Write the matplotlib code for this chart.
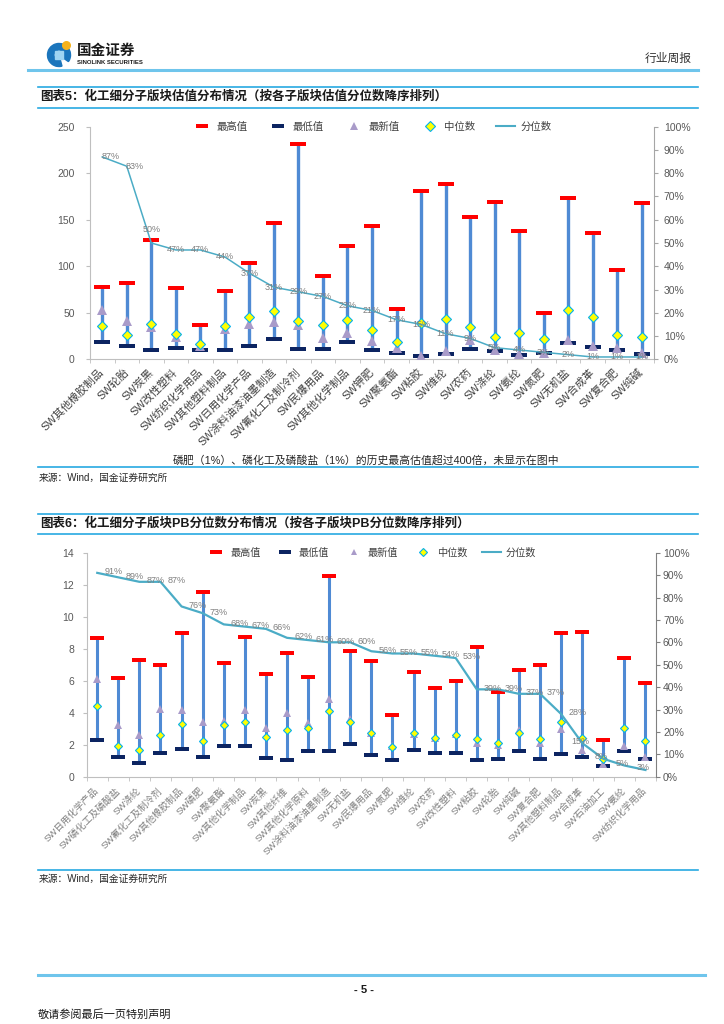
import numpy as np
import matplotlib
matplotlib.use("Agg")
import matplotlib.pyplot as plt
from matplotlib.path import Path
from matplotlib.lines import Line2D
from matplotlib.patches import Wedge, Circle, Rectangle

plt.rcParams['font.family'] = ['Liberation Sans', 'Noto Sans CJK SC', 'DejaVu Sans']

# %% Data, chart 5 (PE)
pe_names = ['SW其他橡胶制品', 'SW轮胎', 'SW炭黑', 'SW改性塑料', 'SW纺织化学用品',
            'SW其他塑料制品', 'SW日用化学产品', 'SW涂料油漆油墨制造', 'SW氟化工及制冷剂',
            'SW民爆用品', 'SW其他化学制品', 'SW钾肥', 'SW聚氨酯', 'SW粘胶', 'SW维纶',
            'SW农药', 'SW涤纶', 'SW氨纶', 'SW氮肥', 'SW无机盐', 'SW合成革', 'SW复合肥', 'SW纯碱']
pe_max = [78, 82, 128, 77, 37, 73, 103, 146, 231, 89, 122, 143, 54, 181, 188, 153, 169, 138, 50, 173, 136, 96, 168]
pe_min = [19, 14, 10, 12.5, 10, 10, 14, 22, 11.5, 11.5, 19, 10, 6.5, 3.5, 5.5, 11.5, 8.5, 4.5, 6.5, 18, 13, 10.5, 5.5]
pe_latest = [53, 41, 35, 24, 14, 33, 38, 40, 37, 23, 28.5, 20, 12, 3.5, 9, 20.5, 10, 6, 7, 20.5, 14, 12, 7]
pe_median = [36, 26, 38, 27.5, 16, 36, 45, 52, 41, 37, 42, 32, 19, 38.5, 43, 34.5, 23.5, 28.5, 21.5, 53, 45, 26, 24.5]
pe_pct = [87, 83, 50, 47, 47, 44, 37, 31, 29, 27, 23, 21, 17, 15, 11, 9, 5, 4, 3, 2, 1, 1, 1]

# %% Data, chart 6 (PB)
pb_names = ['SW日用化学产品', 'SW磷化工及磷酸盐', 'SW涤纶', 'SW氟化工及制冷剂', 'SW其他橡胶制品',
            'SW磷肥', 'SW聚氨酯', 'SW其他化学制品', 'SW炭黑', 'SW其他纤维', 'SW其他化学原料',
            'SW涂料油漆油墨制造', 'SW无机盐', 'SW民爆用品', 'SW氮肥', 'SW维纶', 'SW农药',
            'SW改性塑料', 'SW粘胶', 'SW轮胎', 'SW纯碱', 'SW复合肥', 'SW其他塑料制品',
            'SW合成革', 'SW石油加工', 'SW氨纶', 'SW纺织化学用品']
pb_max = [8.65, 6.15, 7.3, 6.98, 8.96, 11.56, 7.13, 8.73, 6.44, 7.71, 6.23, 12.54, 7.88, 7.21,
          3.83, 6.56, 5.56, 5.96, 8.1, 5.29, 6.65, 6.98, 9.0, 9.04, 2.29, 7.4, 5.88]
pb_min = [2.31, 1.25, 0.88, 1.48, 1.75, 1.25, 1.94, 1.94, 1.15, 1.02, 1.59, 1.59, 2.02, 1.33,
          1.04, 1.67, 1.5, 1.5, 1.02, 1.1, 1.6, 1.1, 1.42, 1.25, 0.69, 1.6, 1.1]
pb_latest = [6.1, 3.23, 2.63, 4.25, 4.19, 3.42, 3.48, 4.15, 3.06, 3.96, 3.33, 4.84, 3.63, 2.75,
             1.9, 2.7, 2.4, 2.7, 2.1, 1.98, 2.92, 2.08, 3.0, 1.67, 0.77, 1.94, 1.25]
pb_median = [4.42, 1.92, 1.67, 2.6, 3.31, 2.23, 3.23, 3.44, 2.48, 2.92, 3.06, 4.08, 3.42, 2.75,
             1.88, 2.71, 2.44, 2.59, 2.33, 2.1, 2.75, 2.33, 3.4, 2.4, 1.09, 3.02, 2.23]
pb_pct = [91, 89, 87, 87, 76, 73, 68, 67, 66, 62, 61, 60, 60, 56, 55, 55, 54, 53, 39, 39, 37, 37,
          28, 15, 8, 5, 3]

legend_labels = ['最高值', '最低值', '最新值', '中位数', '分位数']

# %% Styles
W, H = 724, 1024
RED = '#FF0000'
NAVY = '#0C2461'
BAR_BLUE = '#4F8AD4'
LAVENDER = '#A99BC9'
TEAL = '#4BACC6'
PAGE_BLUE = '#27A9E1'

cap_path = Path([(-1, -0.3), (1, -0.3), (1, 0.3), (-1, 0.3), (-1, -0.3)],
                [Path.MOVETO, Path.LINETO, Path.LINETO, Path.LINETO, Path.CLOSEPOLY])


def px_axes(fig, x0, y0, x1, y1):
    return fig.add_axes([x0 / W, 1 - y1 / H, (x1 - x0) / W, (y1 - y0) / H])


def draw_panel(ax, names, vmax, vmin, latest, median, pct, ymax, ystep, s):
    n = len(names)
    x = np.arange(n)

    ax.vlines(x, vmin, vmax, color=BAR_BLUE, lw=s['bar_lw'], zorder=2)
    ax.plot(x, vmax, ls='none', marker=cap_path, ms=s['cap_ms'], mfc=RED, mec=RED, mew=0, zorder=3)
    ax.plot(x, vmin, ls='none', marker=cap_path, ms=s['cap_ms'], mfc=NAVY, mec=NAVY, mew=0, zorder=3)
    ax.plot(x, latest, ls='none', marker='^', ms=s['tri_ms'], mfc=LAVENDER, mec=LAVENDER, mew=0, zorder=4)
    ax.plot(x, median, ls='none', marker='D', ms=s['dia_ms'], mfc='#FFFF00', mec='#00B0F0',
            mew=0.8, zorder=5)

    ax.set_xlim(-0.5, n - 0.5)
    ax.set_ylim(0, ymax)
    ax.set_yticks(np.arange(0, ymax + 0.01, ystep))
    ax.set_xticks(x)
    ax.set_xticklabels(names, rotation=45, ha='right', va='center', rotation_mode='anchor',
                       fontsize=s['xfs'], color=s['xcolor'])
    ax.set_xticks(np.arange(-0.5, n, 1), minor=True)
    ax.tick_params(axis='x', which='major', length=0, pad=s['xpad'])
    ax.tick_params(axis='x', which='minor', length=3, color='#BFBFBF')
    ax.tick_params(axis='y', length=3, color='#BFBFBF', labelsize=7.5, labelcolor='#595959',
                   pad=s['ypad'])
    for side in ['top', 'right']:
        ax.spines[side].set_visible(False)
    ax.spines['left'].set_color('#BFBFBF')
    ax.spines['bottom'].set_color('#BFBFBF')

    ax2 = ax.twinx()
    ax2.set_ylim(0, 1)
    ax2.set_yticks(np.arange(0, 1.01, 0.1))
    ax2.set_yticklabels([f'{v}%' for v in range(0, 101, 10)])
    ax2.tick_params(axis='y', length=3, color=s['rcolor'], labelsize=7.5, labelcolor='#595959',
                    pad=s['rpad'])
    for side in ['top', 'left', 'bottom']:
        ax2.spines[side].set_visible(False)
    ax2.spines['right'].set_color(s['rcolor'])
    pv = np.array(pct) / 100.0
    ax2.plot(x, pv, color=TEAL, lw=s['line_lw'], zorder=6)
    for i, p in enumerate(pct):
        dx, dy, ha = s['lab_off'](i, n)
        ax2.annotate(f'{p}%', (x[i], pv[i]), xytext=(dx, dy), textcoords='offset pixels',
                     ha=ha, va='center', fontsize=6.5, color='#7F7F7F', zorder=7)

    handles = [
        Line2D([], [], ls='none', marker=cap_path, ms=s['cap_ms'] * 0.8, mfc=RED, mec=RED, mew=0),
        Line2D([], [], ls='none', marker=cap_path, ms=s['cap_ms'] * 0.8, mfc=NAVY, mec=NAVY, mew=0),
        Line2D([], [], ls='none', marker='^', ms=s['tri_ms'] * 0.9, mfc=LAVENDER, mec=LAVENDER, mew=0),
        Line2D([], [], ls='none', marker='D', ms=s['dia_ms'], mfc='#FFFF00', mec='#00B0F0', mew=0.8),
        Line2D([], [], color=TEAL, lw=1.5),
    ]
    leg = ax.legend(handles, legend_labels, loc='center', bbox_to_anchor=(0.5, 1.0), ncol=5,
                    frameon=False, fontsize=s['leg_fs'], handlelength=1.8, handletextpad=0.5,
                    columnspacing=s['leg_cs'], borderaxespad=0)
    for t in leg.get_texts():
        t.set_color('#404040')
    leg.set_zorder(10)
    return ax2


fig = plt.figure(figsize=(W / 100, H / 100), dpi=100)

# %% Page decoration
page = fig.add_axes([0, 0, 1, 1])
page.set_xlim(0, W)
page.set_ylim(H, 0)
page.axis('off')

page.add_patch(Wedge((59, 55), 11.5, 75, 395, width=6.5, color='#1B75BC'))
page.add_patch(Rectangle((55, 51), 8, 8, color='#9FD4F2'))
page.add_patch(Circle((66.5, 45.5), 3.8, color='#F6B21B'))
page.text(77, 51, '国金证券', fontsize=10.5, fontweight='bold', va='center', color='#1A1A1A')
page.text(77, 62, 'SINOLINK SECURITIES', fontsize=4.3, fontweight='bold', va='center', color='#1A1A1A')
page.text(692, 59, '行业周报', fontsize=8.5, ha='right', va='center', color='#333333')
page.plot([28, 698], [70, 70], color='#6FC5EC', lw=2.2)

page.plot([38, 698], [87, 87], color=PAGE_BLUE, lw=1.2)
page.plot([38, 698], [107.5, 107.5], color=PAGE_BLUE, lw=1.2)
page.text(40, 97, '图表5：化工细分子版块估值分布情况（按各子版块估值分位数降序排列）',
          fontsize=9, fontweight='bold', va='center', color='#1A1A1A')
page.text(366, 460, '磷肥（1%）、磷化工及磷酸盐（1%）的历史最高估值超过400倍，未显示在图中',
          fontsize=7.8, ha='center', va='center', color='#262626')
page.plot([38, 698], [467, 467], color=PAGE_BLUE, lw=1.2)
page.text(39, 478, '来源：Wind，国金证券研究所', fontsize=7, va='center', color='#262626')

page.plot([38, 698], [514, 514], color=PAGE_BLUE, lw=1.2)
page.plot([38, 698], [534, 534], color=PAGE_BLUE, lw=1.2)
page.text(40, 523.5, '图表6：化工细分子版块PB分位数分布情况（按各子版块PB分位数降序排列）',
          fontsize=9, fontweight='bold', va='center', color='#1A1A1A')
page.plot([38, 698], [870, 870], color=PAGE_BLUE, lw=1.2)
page.text(39, 879, '来源：Wind，国金证券研究所', fontsize=7, va='center', color='#262626')

page.plot([38, 705], [975, 975], color='#6FC5EC', lw=2.2)
page.text(364, 990, '- 5 -', fontsize=8, fontweight='bold', ha='center', va='center', color='#1A1A1A')
page.text(38, 1015, '敬请参阅最后一页特别声明', fontsize=8, va='center', color='#1A1A1A')

# %% Chart 5
ax_pe = px_axes(fig, 90, 126.7, 654, 359.3)
style_pe = {
    'bar_lw': 2.4, 'cap_ms': 11.5, 'tri_ms': 7, 'dia_ms': 5, 'line_lw': 1.1,
    'xfs': 7.8, 'xcolor': '#404040', 'xpad': 8, 'ypad': 8, 'rpad': 4, 'rcolor': '#A6A6A6',
    'leg_fs': 7.5, 'leg_cs': 2.0,
    'lab_off': lambda i, n: ((8, 0, 'center') if i < 2 else ((0, 14, 'center') if i == 2 else (0, 0, 'center'))),
}
draw_panel(ax_pe, pe_names, pe_max, pe_min, pe_latest, pe_median, pe_pct, 250, 50, style_pe)

# %% Chart 6
ax_pb = px_axes(fig, 86.7, 552.7, 656, 776.7)
style_pb = {
    'bar_lw': 2.2, 'cap_ms': 10, 'tri_ms': 5.5, 'dia_ms': 4.2, 'line_lw': 1.6,
    'xfs': 6.8, 'xcolor': '#7F7F7F', 'xpad': 9, 'ypad': 6, 'rpad': 2, 'rcolor': '#808080',
    'leg_fs': 7.3, 'leg_cs': 1.5,
    'lab_off': lambda i, n: ((7, 1, 'left') if i < n - 4 else (-2, 2, 'center')),
}
draw_panel(ax_pb, pb_names, pb_max, pb_min, pb_latest, pb_median, pb_pct, 14, 2, style_pb)

fig.savefig('out.png', dpi=100)
